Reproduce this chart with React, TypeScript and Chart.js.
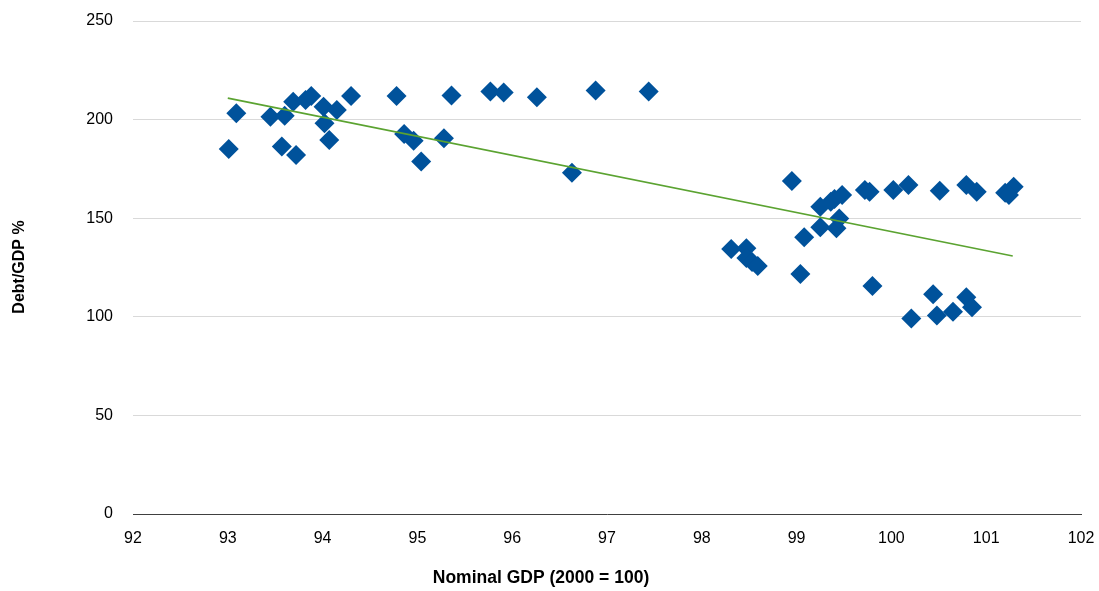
import React, { useEffect, useRef } from "react";
import { Chart, registerables } from "chart.js";

Chart.register(...registerables);

const gdpIndex: number[] = [
  93.01, 93.09, 93.45, 93.6, 93.57, 93.69, 93.72, 93.82, 93.88, 94.01,
  94.02, 94.07, 94.15, 94.3, 94.78, 94.86, 94.96, 95.04, 95.28, 95.36,
  95.77, 95.91, 96.26, 96.63, 96.88, 97.44, 98.31, 98.47, 98.47, 98.53,
  98.59, 98.95, 99.04, 99.08, 99.25, 99.36, 99.4, 99.48, 99.25, 99.42,
  99.45, 99.72, 99.77, 99.8, 100.02, 100.18, 100.21, 100.44, 100.48, 100.51,
  100.65, 100.79, 100.9, 100.79, 100.85, 101.2, 101.29, 101.24,
];
const debtRatio: number[] = [
  185.1, 203.2, 201.5, 202.0, 186.3, 209.1, 182.0, 209.9, 212.0, 206.5,
  198.1, 189.7, 204.9, 212.0, 212.0, 192.7, 189.3, 178.7, 190.5, 212.2,
  214.3, 213.7, 211.3, 173.1, 214.7, 214.2, 134.4, 134.7, 129.8, 127.8,
  125.8, 168.9, 121.7, 140.3, 155.8, 158.4, 159.7, 161.8, 145.4, 144.9,
  149.9, 164.3, 163.4, 115.6, 164.3, 166.8, 99.2, 111.4, 100.6, 163.9,
  102.6, 166.8, 163.4, 109.9, 104.8, 162.9, 166.0, 161.8,
];
const trendX: number[] = [93.0, 101.28];
const trendY: number[] = [210.9, 130.8];

const xTitle = "Nominal GDP (2000 = 100)";
const yTitle = "Debt/GDP %";

export default function App() {
  const ref = useRef<HTMLCanvasElement | null>(null);

  useEffect(() => {
    if (!ref.current) return;
    const titlePlugin = {
      id: "axisTitles",
      afterDraw(chart: any) {
        const ctx = chart.ctx;
        ctx.save();
        ctx.fillStyle = "#000";
        ctx.textAlign = "center";
        ctx.textBaseline = "middle";
        ctx.font = "bold 17.5px 'Liberation Sans', Arial, sans-serif";
        ctx.fillText(xTitle, 541, 578);
        ctx.font = "bold 16px 'Liberation Sans', Arial, sans-serif";
        ctx.translate(20, 267);
        ctx.rotate(-Math.PI / 2);
        ctx.fillText(yTitle, 0, 0);
        ctx.restore();
      },
    };
    const zeroPad = (scale: any) => {
      scale.paddingTop = 0;
      scale.paddingBottom = 0;
      scale.paddingLeft = 0;
      scale.paddingRight = 0;
    };
    const chart = new Chart(ref.current, {
      type: "scatter",
      data: {
        datasets: [
          {
            type: "line",
            label: "Trend",
            data: trendX.map((x, i) => ({ x, y: trendY[i] })),
            borderColor: "#5BA331",
            borderWidth: 1.6,
            pointRadius: 0,
            fill: false,
            order: 0,
          } as any,
          {
            label: "Debt/GDP",
            data: gdpIndex.map((x, i) => ({ x, y: debtRatio[i] })),
            pointStyle: "rectRot",
            pointRadius: 10,
            backgroundColor: "#00529B",
            borderColor: "#00529B",
            borderWidth: 0,
            order: 1,
          },
        ],
      },
      options: {
        animation: false,
        responsive: false,
        maintainAspectRatio: false,
        layout: { padding: { top: 21, right: 18, left: 0, bottom: 0 } },
        plugins: {
          legend: { display: false },
          tooltip: { enabled: false },
        },
        scales: {
          x: {
            type: "linear",
            min: 92,
            max: 102,
            afterFit(scale: any) {
              scale.height = 77;
              zeroPad(scale);
            },
            ticks: {
              stepSize: 1,
              padding: 15,
              color: "#000",
              font: { family: "'Liberation Sans', Arial, sans-serif", size: 16 },
            },
            grid: { display: false, drawTicks: false },
            border: { display: true, color: "#404040", width: 1 },
          },
          y: {
            min: 0,
            max: 250,
            afterFit(scale: any) {
              scale.width = 133;
              zeroPad(scale);
            },
            ticks: {
              stepSize: 50,
              padding: 20,
              color: "#000",
              font: { family: "'Liberation Sans', Arial, sans-serif", size: 16 },
            },
            grid: { color: "#D9D9D9", lineWidth: 1, drawTicks: false },
            border: { display: false },
          },
        },
      },
      plugins: [titlePlugin],
    });
    return () => chart.destroy();
  }, []);

  return (
    <div style={{ position: "fixed", left: 0, top: 0, width: 1099, height: 591, background: "#fff" }}>
      <canvas ref={ref} width={1099} height={591} style={{ width: 1099, height: 591 }} />
    </div>
  );
}
